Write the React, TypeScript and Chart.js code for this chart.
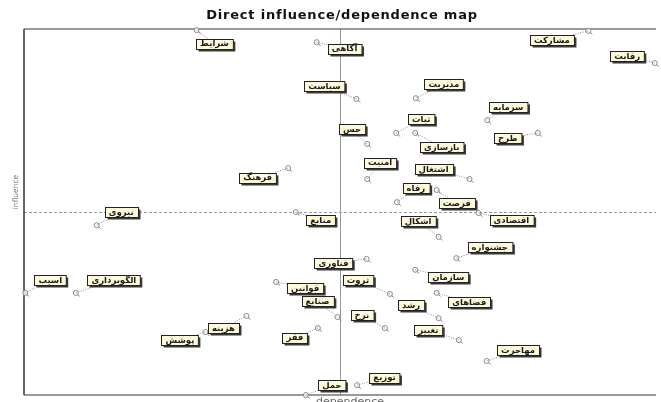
import { useEffect, useRef } from "react";
import { Chart, registerables } from "chart.js";
Chart.register(...registerables);

const chartTitle = "Direct influence/dependence map";
const xAxisTitle = "dependence";
const yAxisTitle = "influence";

const variables = [
  "شرایط", "آگاهی", "مشارکت", "رقابت", "سیاست", "مدیریت", "سرمایه", "ثبات", "بازسازی", "طرح",
  "حس", "امنیت", "اشتغال", "فرهنگ", "رفاه", "فرصت", "نیروی", "منابع", "اقتصادی", "اشکال",
  "جشنواره", "فناوری", "سازمان", "ثروت", "آسیب", "الگوبرداری", "قوانین", "صنایع", "فضاهای", "رشد",
  "نرخ", "هزینه", "پوشش", "تغییر", "فقر", "مهاجرت", "توزیع", "حمل",
];
const dependence = [
  27.3, 46.3, 89.3, 99.8, 52.6, 62.0, 73.3, 58.9, 61.9, 81.3,
  54.3, 54.3, 70.5, 41.8, 59.0, 65.3, 11.5, 43.0, 71.9, 65.6,
  68.4, 54.2, 61.9, 57.9, 0.2, 8.2, 39.9, 49.6, 65.3, 65.6,
  57.1, 35.2, 28.7, 68.8, 46.5, 73.2, 52.7, 44.6,
];
const influence = [
  99.7, 96.4, 99.5, 90.7, 80.9, 81.1, 75.1, 71.6, 71.6, 71.6,
  68.6, 59.0, 59.0, 62.0, 52.7, 56.0, 46.4, 50.0, 49.7, 43.2,
  37.4, 37.2, 34.2, 27.6, 27.9, 27.9, 30.9, 21.3, 27.9, 21.0,
  18.3, 21.6, 17.2, 15.0, 18.3, 9.3, 2.7, 0.0,
];
const meanDependence = 50;
const meanInfluence = 50;

// label box placement (pixels, relative to the point)
const labelDx = [
  18, 28, -36.5, -27.5, -32, 28, 21, 25, 26.5, -30,
  -15, 13, -36, -30.5, 19, 20, 24.5, 25, 33, -20.5,
  33.5, -33, 33, -32, 25, 38, 29, -20, 32.5, -27.5,
  -23, -23, -25.5, -30.5, -23, 31.5, 27.5, 26,
];
const labelDy = [
  13.5, 6.5, 9, -7, -12.5, -14, -13, -13.5, 14, 5,
  -15, -16.5, -10, 9.5, -14, 13, -13, 8, 7, -16,
  -11, 4.5, 7, -14, -13, -13, 6, -16, 9.5, -13,
  -13, 12, 8, -10, 9.5, -11, -7.5, -10,
];

const overlay = {
  id: "micmacOverlay",
  beforeDatasetsDraw(chart: any) {
    const { ctx, chartArea: a, scales } = chart;
    ctx.save();
    // title
    ctx.fillStyle = "#111";
    ctx.font = "bold 13px 'DejaVu Sans'";
    (ctx as any).letterSpacing = "0.8px";
    ctx.textAlign = "center";
    ctx.textBaseline = "alphabetic";
    ctx.fillText(chartTitle, 342, 19);
    (ctx as any).letterSpacing = "0px";
    // y title
    ctx.save();
    ctx.translate(16, 192);
    ctx.rotate(-Math.PI / 2);
    ctx.fillStyle = "#777";
    ctx.font = "7.5px 'DejaVu Sans'";
    ctx.textBaseline = "middle";
    ctx.fillText(yAxisTitle, 0, 0);
    ctx.restore();
    // x title
    ctx.fillStyle = "#666";
    ctx.font = "11px 'DejaVu Sans'";
    ctx.textBaseline = "top";
    ctx.fillText(xAxisTitle, 350, 397);
    // mean lines
    const mx = scales.x.getPixelForValue(meanDependence);
    const my = scales.y.getPixelForValue(meanInfluence);
    ctx.strokeStyle = "#999";
    ctx.lineWidth = 1;
    ctx.setLineDash([]);
    ctx.beginPath();
    ctx.moveTo(Math.round(mx) + 0.5, a.top);
    ctx.lineTo(Math.round(mx) + 0.5, a.bottom);
    ctx.stroke();
    ctx.setLineDash([3, 2]);
    ctx.beginPath();
    ctx.moveTo(a.left, Math.round(my) + 0.5);
    ctx.lineTo(a.right, Math.round(my) + 0.5);
    ctx.stroke();
    ctx.setLineDash([]);
    // frame
    ctx.strokeStyle = "#777";
    ctx.lineWidth = 1.5;
    ctx.beginPath();
    ctx.moveTo(a.left, a.top);
    ctx.lineTo(a.right, a.top);
    ctx.stroke();
    ctx.beginPath();
    ctx.moveTo(a.left, a.bottom);
    ctx.lineTo(a.right, a.bottom);
    ctx.stroke();
    ctx.strokeStyle = "#333";
    ctx.beginPath();
    ctx.moveTo(a.left, a.top);
    ctx.lineTo(a.left, a.bottom);
    ctx.stroke();
    ctx.restore();
  },
  afterDatasetsDraw(chart: any) {
    const { ctx } = chart;
    const meta = chart.getDatasetMeta(0);
    ctx.save();
    ctx.font = "bold 8.5px 'DejaVu Sans'";
    ctx.textAlign = "center";
    ctx.textBaseline = "middle";
    const boxes: any[] = [];
    meta.data.forEach((pt: any, i: number) => {
      const px = pt.x, py = pt.y;
      const w = ctx.measureText(variables[i]).width + 8;
      const h = 10;
      const cx = px + labelDx[i], cy = py + labelDy[i];
      boxes.push({ px, py, cx, cy, w, h });
    });
    // connectors
    ctx.strokeStyle = "#888";
    ctx.lineWidth = 1;
    ctx.setLineDash([1, 1.5]);
    boxes.forEach((b) => {
      const dx = b.px - b.cx, dy = b.py - b.cy;
      const t = Math.min(Math.abs((b.w / 2) / (dx || 1e-6)), Math.abs((b.h / 2) / (dy || 1e-6)));
      const ex = b.cx + dx * Math.min(t, 1), ey = b.cy + dy * Math.min(t, 1);
      ctx.beginPath();
      ctx.moveTo(b.px, b.py);
      ctx.lineTo(ex, ey);
      ctx.stroke();
    });
    ctx.setLineDash([]);
    // marker tails
    ctx.strokeStyle = "#888";
    ctx.lineWidth = 1;
    boxes.forEach((b) => {
      ctx.beginPath();
      ctx.moveTo(b.px + 1.5, b.py + 1.5);
      ctx.lineTo(b.px + 4, b.py + 3.5);
      ctx.stroke();
    });
    // label boxes
    boxes.forEach((b, i) => {
      const x = Math.round(b.cx - b.w / 2) + 0.5, y = Math.round(b.cy - b.h / 2) + 0.5;
      ctx.fillStyle = "#3a3a3a";
      ctx.fillRect(x + 2, y + 2, b.w, b.h);
      ctx.fillStyle = "#fdfadc";
      ctx.fillRect(x, y, b.w, b.h);
      ctx.strokeStyle = "#222";
      ctx.lineWidth = 1;
      ctx.strokeRect(x, y, b.w, b.h);
      ctx.fillStyle = "#1a1a1a";
      ctx.fillText(variables[i], b.cx, b.cy + 0.5);
    });
    ctx.restore();
  },
};

export default function App() {
  const ref = useRef<HTMLCanvasElement>(null);
  useEffect(() => {
    if (!ref.current) return;
    const chart = new Chart(ref.current, {
      type: "scatter",
      data: {
        datasets: [
          {
            data: dependence.map((x, i) => ({ x, y: influence[i] })),
            pointRadius: 2.5,
            pointBorderWidth: 1,
            pointBorderColor: "#888",
            pointBackgroundColor: "rgba(255,255,255,0.8)",
            clip: false as any,
          },
        ],
      },
      options: {
        responsive: false,
        animation: false,
        layout: { padding: { left: 24, top: 29, right: 0, bottom: 7 } },
        scales: {
          x: { type: "linear", min: 0, max: 100, display: false },
          y: { type: "linear", min: 0, max: 100, display: false },
        },
        plugins: { legend: { display: false }, tooltip: { enabled: false } },
      },
      plugins: [overlay],
    });
    return () => chart.destroy();
  }, []);
  return (
    <div style={{ position: "fixed", left: 0, top: 0, width: 661, height: 402, background: "#fff" }}>
      <canvas ref={ref} width={661} height={402} />
    </div>
  );
}
